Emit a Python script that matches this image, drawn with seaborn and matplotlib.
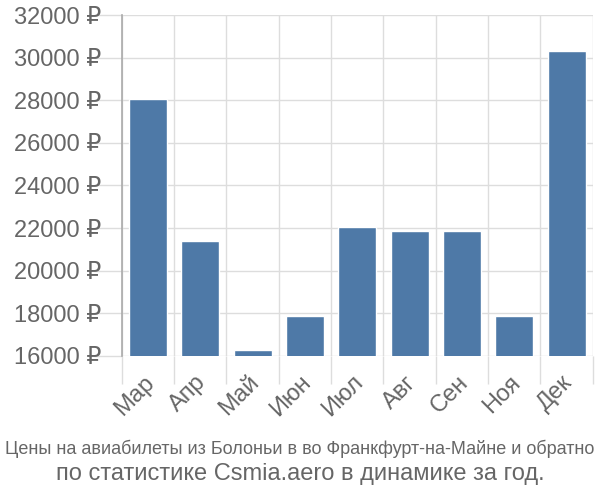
import matplotlib
matplotlib.use("Agg")
import matplotlib.pyplot as plt
import matplotlib.transforms as mtrans
import seaborn as sns
import pandas as pd
from matplotlib.ticker import FixedLocator, FuncFormatter

months = ["Мар", "Апр", "Май", "Июн", "Июл", "Авг", "Сен", "Ноя", "Дек"]
prices = [28050, 21400, 16300, 17880, 22030, 21860, 21860, 17880, 30300]
yticks = [16000, 18000, 20000, 22000, 24000, 26000, 28000, 30000, 32000]
title1 = "Цены на авиабилеты из Болоньи в во Франкфурт-на-Майне и обратно"
title2 = "по статистике Csmia.aero в динамике за год."

sns.set_theme(style="white")
plt.rcParams['font.family'] = ['Liberation Sans', 'DejaVu Sans']

df = pd.DataFrame({"month": months, "price": prices})

fig = plt.figure(figsize=(6, 5), dpi=100)
ax = fig.add_axes([0.203, 0.288, 0.785, 0.682])
sns.barplot(data=df, x="month", y="price", color="#4e79a7", saturation=1,
            width=0.73, ax=ax, zorder=3)
ax.set_ylim(16000, 32000)
ax.set_xlim(-0.5, len(months) - 0.5)
ax.set_yticks(yticks)
ax.yaxis.set_major_formatter(FuncFormatter(lambda v, p: f"{int(v)} ₽"))
ax.xaxis.set_minor_locator(FixedLocator([i - 0.5 for i in range(len(months) + 1)]))
ax.set_xlabel("")
ax.set_ylabel("")

for s in ["top", "right", "bottom"]:
    ax.spines[s].set_visible(False)
ax.spines["left"].set_color("#aaaaaa")
ax.spines["left"].set_linewidth(1.2)

ax.grid(True, axis="y", color="#dddddd", linewidth=1, zorder=0)
ax.grid(True, axis="x", which="minor", color="#dddddd", linewidth=1, zorder=0)
ax.grid(False, axis="x", which="major")

ax.tick_params(axis="y", length=20, color="#dddddd", width=1, labelsize=17,
               labelcolor="#666666", pad=-5, left=True)
ax.tick_params(axis="x", which="major", length=0, labelsize=17,
               labelcolor="#666666", pad=9)
ax.tick_params(axis="x", which="minor", length=20, color="#dddddd", width=1, bottom=True)

off = mtrans.ScaledTranslation(-5 / 100, -3 / 100, fig.dpi_scale_trans)
for lbl in ax.get_xticklabels():
    lbl.set_rotation(45)
    lbl.set_ha("right")
    lbl.set_rotation_mode("anchor")
    lbl.set_transform(lbl.get_transform() + off)

fig.text(0.5, 0.103, title1, ha="center", va="center", fontsize=13,
         color="#666666")
fig.text(0.5, 0.052, title2, ha="center", va="center", fontsize=17,
         color="#666666")

fig.savefig("out.png", dpi=100)
